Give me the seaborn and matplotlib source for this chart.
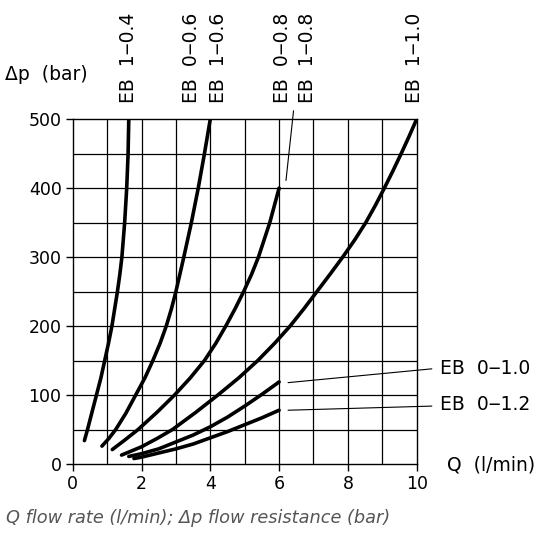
import matplotlib
matplotlib.use("Agg")
import matplotlib.pyplot as plt
import seaborn as sns
import pandas as pd

# ---- data ----
q_04 = [0.34, 0.43, 0.56, 0.69, 0.82, 0.93, 1.04, 1.14, 1.22, 1.30, 1.37, 1.43, 1.51, 1.57, 1.61, 1.63]
p_04 = [34, 50, 75, 100, 125, 150, 175, 200, 225, 250, 275, 300, 350, 400, 450, 500]

q_06 = [0.85, 1.05, 1.25, 1.55, 1.83, 2.10, 2.33, 2.54, 2.72, 2.87, 3.00, 3.23, 3.45, 3.65, 3.83, 4.00]
p_06 = [26, 37, 50, 74, 100, 125, 150, 175, 200, 225, 250, 300, 350, 400, 450, 500]

q_08 = [1.15, 1.52, 1.90, 2.45, 2.96, 3.42, 3.83, 4.16, 4.45, 4.72, 4.97, 5.20, 5.40, 5.73, 6.00]
p_08 = [21, 35, 50, 75, 100, 125, 150, 175, 200, 225, 250, 275, 300, 350, 400]

q_10 = [1.42, 2.00, 2.45, 2.90, 3.58, 4.22, 4.83, 5.38, 5.87, 6.32, 6.72, 7.10, 7.48, 7.85,
        8.20, 8.52, 8.80, 9.06, 9.31, 9.55, 9.78, 10.0]
p_10 = [13, 25, 37, 50, 75, 100, 125, 150, 175, 200, 225, 250, 275, 300,
        325, 350, 375, 400, 425, 450, 475, 500]

q_010 = [1.63, 2.0, 2.5, 3.0, 3.5, 4.0, 4.5, 5.0, 5.5, 6.0]
p_010 = [11, 15, 22, 32, 42, 54, 68, 84, 101, 119]

q_012 = [1.78, 2.0, 2.5, 3.0, 3.5, 4.0, 4.5, 5.0, 5.5, 6.0]
p_012 = [8, 10, 16, 22, 29, 38, 47, 57, 67, 78]

top_labels = ["EB  1‒0.4", "EB  0‒0.6", "EB  1‒0.6", "EB  0‒0.8", "EB  1‒0.8", "EB  1‒1.0"]
top_label_x = [1.63, 3.45, 4.23, 6.1, 6.83, 9.95]
right_labels = ["EB  0‒1.0", "EB  0‒1.2"]
right_label_p = [139, 86]
x_ticks = [0, 2, 4, 6, 8, 10]
y_ticks = [0, 100, 200, 300, 400, 500]

curves = [(q_04, p_04), (q_06, p_06), (q_08, p_08), (q_10, p_10), (q_010, p_010), (q_012, p_012)]
frames = []
for i, (q, p) in enumerate(curves):
    frames.append(pd.DataFrame({"Q": q, "P": p, "curve": i}))
df = pd.concat(frames, ignore_index=True)

sns.set_style("white")
plt.rcParams['font.family'] = ['DejaVu Sans']
plt.rcParams['text.color'] = 'black'
plt.rcParams['xtick.color'] = 'black'
plt.rcParams['ytick.color'] = 'black'
plt.rcParams['axes.labelcolor'] = 'black'

LABEL_FS = 13.5

fig = plt.figure(figsize=(5.5, 5.34), dpi=100)
ax = fig.add_axes([0.1322, 0.131, 0.6254, 0.646])

for i in range(len(curves)):
    sub = df[df["curve"] == i]
    sns.lineplot(data=sub, x="Q", y="P", sort=False, estimator=None,
                 color="black", lw=2.6, ax=ax)

ax.set_xlim(0, 10)
ax.set_ylim(0, 500)
for xv in range(1, 10):
    ax.axvline(xv, color="black", lw=0.9, zorder=0)
for yv in range(50, 500, 50):
    ax.axhline(yv, color="black", lw=0.9, zorder=0)

for s in ax.spines.values():
    s.set_color("black")
    s.set_linewidth(1.0)

ax.set_xticks(x_ticks)
ax.set_yticks(y_ticks)
ax.set_xticklabels([str(v) for v in x_ticks], fontsize=12.5)
ax.set_yticklabels([str(v) for v in y_ticks], fontsize=12.5)
ax.tick_params(axis="both", direction="out", length=5, width=1, color="black",
               labelcolor="black", pad=3)
ax.xaxis.set_ticks_position("bottom")
ax.yaxis.set_ticks_position("left")
ax.set_xlabel("")
ax.set_ylabel("")

# top rotated labels
for lab, xv in zip(top_labels, top_label_x):
    ax.text(xv, 523, lab, rotation=90, ha="center", va="bottom", fontsize=LABEL_FS)

# leader line for 0.8
ax.plot([6.2, 6.42], [411, 512], color="black", lw=0.8, clip_on=False)

# right labels with leaders
ax.plot([6.26, 10.44], [118, 138], color="black", lw=0.8, clip_on=False)
ax.plot([6.26, 10.44], [78, 84], color="black", lw=0.8, clip_on=False)
for lab, pv in zip(right_labels, right_label_p):
    ax.text(10.68, pv, lab, ha="left", va="center", fontsize=LABEL_FS)

# axis titles
fig.text(5 / 550, 1 - 75 / 534, "Δp  (bar)", ha="left", va="center", fontsize=LABEL_FS)
fig.text(447 / 550, 1 - 465 / 534, "Q  (l/min)", ha="left", va="center", fontsize=LABEL_FS)

# caption
fig.text(6 / 550, 1 - 518 / 534, "Q flow rate (l/min); Δp flow resistance (bar)",
         ha="left", va="center", fontsize=12.8, style="italic", color="#555555",
         family=["DejaVu Sans"])

fig.savefig("out.png", dpi=100)
